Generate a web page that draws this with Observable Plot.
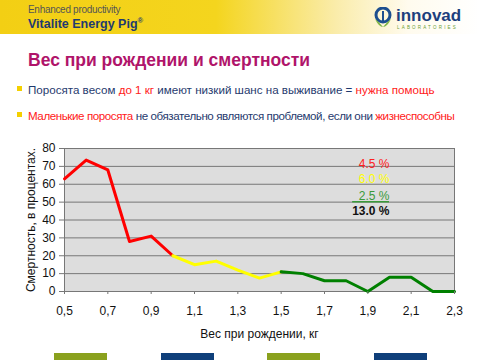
<!DOCTYPE html>
<html><head><meta charset="utf-8">
<script src="https://cdn.jsdelivr.net/npm/d3@7"></script>
<script src="https://cdn.jsdelivr.net/npm/@observablehq/plot@0.6"></script>
<style>
html,body{margin:0;padding:0;background:#fff;}
body{width:480px;height:360px;position:relative;overflow:hidden;font-family:"Liberation Sans",Arial,sans-serif;}
.band{position:absolute;left:0;top:0;width:480px;height:34px;background:linear-gradient(90deg,#f3cf14 0%,#f4d51e 45%,#faecaa 70%,#fffbee 85%,#ffffff 100%);}
.sup{position:absolute;left:28px;top:4px;font-size:10px;color:#555;letter-spacing:-0.3px;}
.prod{position:absolute;left:28px;top:16px;font-size:12.5px;font-weight:bold;color:#1f3a70;}
.prod sup{font-size:7.5px;}
.logo{position:absolute;left:374px;top:7px;}
.title{position:absolute;left:28px;top:50px;font-size:17.5px;color:#b0146a;font-weight:bold;}
.b{position:absolute;left:17px;width:5px;height:5px;background:#f4d000;}
.bt{position:absolute;left:28px;font-size:11.6px;color:#1f3a6e;white-space:nowrap;}
.r{color:#ff2020;}
.foot{position:absolute;top:353px;width:53px;height:8px;}
#chart{position:absolute;left:0;top:140px;}
</style></head><body>
<div class="band"></div>
<div class="sup">Enhanced productivity</div>
<div class="prod">Vitalite Energy Pig<sup>®</sup></div>
<svg class="logo" width="100" height="26" viewBox="0 0 100 26">
  <circle cx="9" cy="8" r="7" fill="none" stroke="#1d4f8f" stroke-width="3"/>
  <path d="M1 12 Q5 20 9 20 Q4 14 1 12Z" fill="#7cb342"/>
  <path d="M17 12 Q13 20 9 20 Q14 14 17 12Z" fill="#7cb342"/>
  <rect x="8" y="4" width="2" height="12" fill="#1d4f8f"/>
  <text x="22" y="14" font-family="Liberation Sans, Arial" font-weight="bold" font-size="17" fill="#1d3f7d">innovad</text>
  <text x="23" y="22" font-family="Liberation Sans, Arial" font-size="4.5" letter-spacing="2.2" fill="#6aa032">LABORATORIES</text>
</svg>
<div class="title">Вес при рождении и смертности</div>
<div class="b" style="top:86px"></div>
<div class="bt" style="top:83px">Поросята весом <span class="r">до 1 кг</span> имеют низкий шанс на выживание = <span class="r">нужна помощь</span></div>
<div class="b" style="top:112px"></div>
<div class="bt" style="top:109px;letter-spacing:-0.42px"><span class="r">Маленькие поросята</span> не обязательно являются проблемой, если они <span class="r">жизнеспособны</span></div>
<div id="chart"></div>
<div class="foot" style="left:54px;background:#8aa11e"></div>
<div class="foot" style="left:161px;background:#0f3f7a"></div>
<div class="foot" style="left:267px;background:#8aa11e"></div>
<div class="foot" style="left:374px;background:#0f3f7a"></div>
<script>
const weights   = [0.5,0.6,0.7,0.8,0.9,1.0,1.1,1.2,1.3,1.4,1.5,1.6,1.7,1.8,1.9,2.0,2.1,2.2,2.3];
const mortality = [63,73.5,68,28,31,20,15,17,12,7.5,11,10,6,6,0,8,8,0,0];
const segNames  = ["до 1 кг","1–1,5 кг","более 1,5 кг"];
const segFrom   = [0.5,1.0,1.5];
const segTo     = [1.0,1.5,2.3];
const segColors = ["#ff0000","#ffff00","#008000"];
const xTicks    = [0.5,0.7,0.9,1.1,1.3,1.5,1.7,1.9,2.1,2.3];
const yTicks    = [0,10,20,30,40,50,60,70,80];
const shareLabels = ["4.5 %","6.0 %","2.5 %","13.0 %"];
const shareColors = ["#ff2020","#ffff00","#3a9a3a","#111111"];

const table = [];
segNames.forEach((s,i)=>{
  weights.forEach((w,j)=>{
    if (w >= segFrom[i]-1e-9 && w <= segTo[i]+1e-9) table.push({seg:s, w, m:mortality[j]});
  });
});

const fmt = d => String(d).replace(".", ",");
const annY = [71.5,63,53.6,44.7];
const ann = shareLabels.map((t,i)=>({t, c:shareColors[i], y:annY[i], x:2.0}));

const plot = Plot.plot({
  width: 480, height: 205,
  marginLeft: 64, marginRight: 26, marginTop: 8, marginBottom: 54,
  style: {fontFamily: "Liberation Sans, Arial, sans-serif", fontSize: "12px", color: "#111", background: "transparent"},
  x: {domain: [0.5, 2.3]},
  y: {domain: [0, 80]},
  color: {domain: segNames, range: segColors},
  marks: [
    Plot.frame({fill: "#dddddd"}),
    Plot.gridY(yTicks, {stroke: "#777", strokeOpacity: 1, strokeWidth: 1}),
    Plot.frame({stroke: "#777"}),
    Plot.line(table, {x: "w", y: "m", z: "seg", stroke: "seg", strokeWidth: 3}),
    Plot.text(ann.slice(0,3), {x: "x", y: "y", text: "t", fill: "c", textAnchor: "end", fontSize: 12}),
    Plot.ruleY([ann[2]], {x1: 1.83, x2: 2.0, y: 50.2, stroke: "#3a9a3a", strokeWidth: 1.5}),
    Plot.text([ann[3]], {x: "x", y: "y", text: "t", fill: "#111", textAnchor: "end", fontSize: 12, fontWeight: "bold"}),
    Plot.axisX(xTicks, {tickFormat: fmt, tickSize: 3, tickPadding: 12, stroke: "#777", fontSize: 12,
      label: "Вес при рождении, кг", labelAnchor: "center", labelArrow: "none", labelOffset: 46}),
    Plot.axisY(yTicks, {tickSize: 5, tickPadding: 4, stroke: "#777", fontSize: 12,
      label: "Смертность, в процентах.", labelAnchor: "center", labelArrow: "none", labelOffset: 38})
  ]
});
document.getElementById("chart").appendChild(plot);
</script>
</body></html>
